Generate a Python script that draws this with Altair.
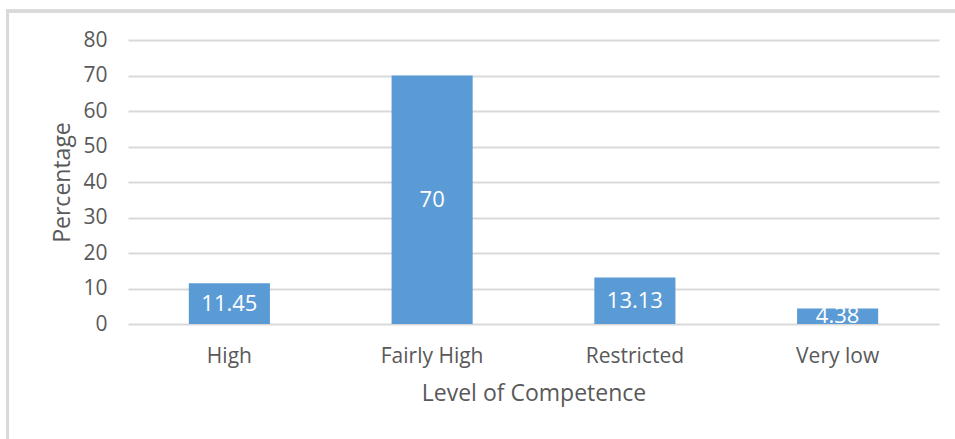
import altair as alt
import pandas as pd

# Share of respondents at each level of competence
levels = ["High", "Fairly High", "Restricted", "Very low"]
percentages = [11.45, 70, 13.13, 4.38]

df = pd.DataFrame({"level": levels, "pct": percentages})

FONT = "Open Sans"
GREY = "#595959"
GRID = "#D9D9D9"
BLUE = "#5B9BD5"

x_axis = alt.Axis(
    title="Level of Competence",
    labelAngle=0,
    labelFontSize=21,
    labelColor=GREY,
    labelFont=FONT,
    labelPadding=21,
    titleFontSize=23,
    titleColor=GREY,
    titleFont=FONT,
    titleFontWeight="normal",
    titlePadding=16,
    domain=False,
    ticks=False,
    grid=False,
)

y_axis = alt.Axis(
    title="Percentage",
    values=list(range(0, 81, 10)),
    labelFontSize=21,
    labelColor=GREY,
    labelFont=FONT,
    labelPadding=21,
    labelOverlap=False,
    titleFontSize=23,
    titleColor=GREY,
    titleFont=FONT,
    titleFontWeight="normal",
    titlePadding=8,
    domain=False,
    ticks=False,
    grid=True,
    gridColor=GRID,
    gridWidth=2,
)

x_scale = alt.Scale(paddingInner=0.6, paddingOuter=0.3)
y_scale = alt.Scale(domain=[0, 80])

bars = alt.Chart(df).mark_bar(color=BLUE).encode(
    x=alt.X("level:N", sort=levels, scale=x_scale, axis=x_axis),
    y=alt.Y("pct:Q", scale=y_scale, axis=y_axis),
)

labels = (
    alt.Chart(df)
    .transform_calculate(mid="datum.pct / 2")
    .mark_text(color="white", font=FONT, fontSize=22, baseline="middle", align="center")
    .encode(
        x=alt.X("level:N", sort=levels, scale=x_scale, axis=x_axis),
        y=alt.Y("mid:Q", scale=y_scale, axis=y_axis),
        text=alt.Text("pct:Q"),
    )
)

# Frame lines along the left and top of the chart
frame_left = alt.Chart(df).mark_rule(color=GRID, strokeWidth=3).encode(
    x=alt.value(-120.5), y=alt.value(-30), y2=alt.value(420)
)
frame_top = alt.Chart(df).mark_rule(color=GRID, strokeWidth=3).encode(
    x=alt.value(-122), x2=alt.value(840), y=alt.value(-29)
)

chart = (
    alt.layer(frame_left, frame_top, bars, labels)
    .properties(
        width=811,
        height=284,
        autosize=alt.AutoSizeParams(type="none"),
        padding={"left": 128, "top": 40, "right": 16, "bottom": 115},
        background="white",
    )
    .configure_view(stroke=None)
)

chart.save("out.html", embed_options={"renderer": "svg", "actions": False})
